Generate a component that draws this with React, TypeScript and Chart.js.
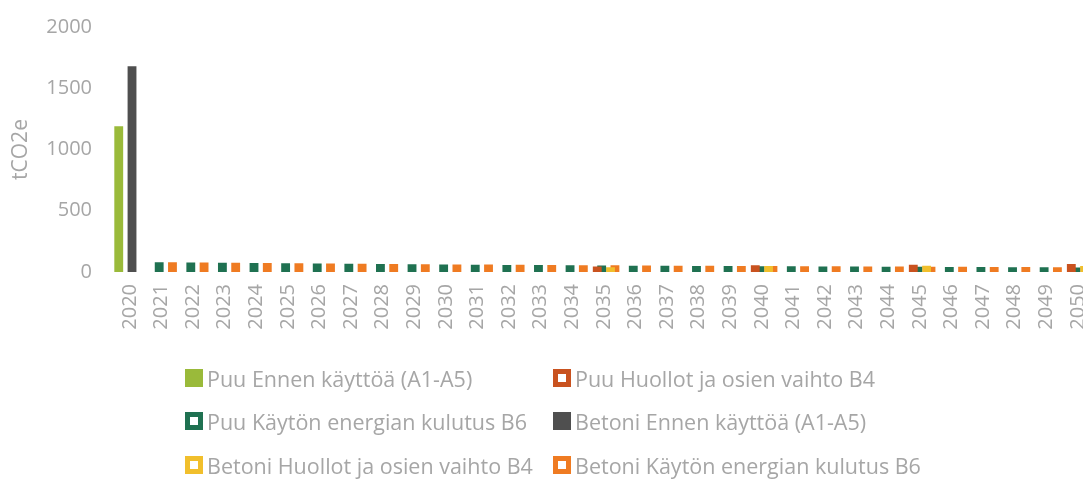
import React, { useEffect, useRef } from "react";
import { Chart, registerables } from "chart.js";

Chart.register(...registerables);

const years = [
  "2020", "2021", "2022", "2023", "2024", "2025", "2026", "2027", "2028", "2029", "2030",
  "2031", "2032", "2033", "2034", "2035", "2036", "2037", "2038", "2039", "2040",
  "2041", "2042", "2043", "2044", "2045", "2046", "2047", "2048", "2049", "2050",
];

const puuA1A5 = [1190, null, null, null, null, null, null, null, null, null, null, null, null, null, null, null, null, null, null, null, null, null, null, null, null, null, null, null, null, null, null];
const puuB4 = [null, null, null, null, null, null, null, null, null, null, null, null, null, null, null, 45, null, null, null, null, 55, null, null, null, null, 60, null, null, null, null, 65];
const puuB6 = [null, 80, 78, 75, 73, 71, 69, 67, 65, 63, 62, 60, 58, 57, 55, 54, 52, 51, 50, 48, 47, 46, 45, 44, 43, 42, 41, 40, 39, 38, 37];
const betoniA1A5 = [1680, null, null, null, null, null, null, null, null, null, null, null, null, null, null, null, null, null, null, null, null, null, null, null, null, null, null, null, null, null, null];
const betoniB4 = [null, null, null, null, null, null, null, null, null, null, null, null, null, null, null, 38, null, null, null, null, 48, null, null, null, null, 52, null, null, null, null, 48];
const betoniB6 = [null, 80, 78, 76, 74, 72, 70, 68, 66, 64, 62, 61, 59, 57, 56, 55, 53, 52, 51, 49, 48, 47, 46, 45, 44, 43, 42, 41, 40, 39, 38];

const yTicks = [0, 500, 1000, 1500, 2000];

const seriesNames = [
  "Puu Ennen käyttöä (A1-A5)",
  "Puu Huollot ja osien vaihto B4",
  "Puu Käytön energian kulutus B6",
  "Betoni Ennen käyttöä (A1-A5)",
  "Betoni Huollot ja osien vaihto B4",
  "Betoni Käytön energian kulutus B6",
];
const seriesData = [puuA1A5, puuB4, puuB6, betoniA1A5, betoniB4, betoniB6];
const seriesColors = ["#9aba3a", "#c9521f", "#1f7151", "#4f4f4f", "#f1bf2c", "#ef7b22"];
const seriesHollow = [false, true, true, false, true, true];

const TEXT = "#a6a6a6";
const FONT = "'Open Sans', 'Noto Sans', sans-serif";

export default function App() {
  const ref = useRef<HTMLCanvasElement | null>(null);

  useEffect(() => {
    if (!ref.current) return;
    const chart = new Chart(ref.current, {
      type: "bar",
      data: {
        labels: years,
        datasets: seriesNames.map((name, i) => ({
          label: name,
          data: seriesData[i],
          backgroundColor: seriesColors[i],
          borderWidth: 0,
          barPercentage: 2.0,
          categoryPercentage: 0.84,
        })),
      },
      options: {
        animation: false,
        responsive: true,
        maintainAspectRatio: false,
        layout: { padding: { top: 27, bottom: 147, left: 8, right: 3 } },
        plugins: {
          legend: { display: false },
          tooltip: { enabled: false },
        },
        scales: {
          x: {
            grid: { display: false },
            border: { display: false },
            ticks: {
              autoSkip: false,
              maxRotation: 90,
              minRotation: 90,
              color: TEXT,
              font: { family: FONT, size: 20 },
              padding: 4,
            },
            afterFit: (s: any) => {
              s.height = 60;
            },
          },
          y: {
            min: yTicks[0],
            max: yTicks[yTicks.length - 1],
            grid: { display: false },
            border: { display: false },
            afterBuildTicks: (s: any) => {
              s.ticks = yTicks.map((v) => ({ value: v }));
            },
            ticks: {
              color: TEXT,
              font: { family: FONT, size: 20 },
              padding: 14,
              callback: (v: any) => String(v),
            },
            title: {
              display: true,
              text: "tCO2e",
              color: TEXT,
              font: { family: FONT, size: 21 },
              padding: 0,
            },
            afterFit: (s: any) => {
              s.width = 106;
            },
          },
        },
      },
    });
    return () => chart.destroy();
  }, []);

  const legendRows = [
    [0, 1],
    [2, 3],
    [4, 5],
  ];
  const rowY = [378, 421, 465];
  const colX = [185, 553];

  return (
    <div
      style={{
        position: "absolute",
        left: 0,
        top: 0,
        width: 1083,
        height: 479,
        overflow: "hidden",
        background: "#ffffff",
      }}
    >
      <div style={{ position: "absolute", left: 0, top: 0, width: 1106, height: 479 }}>
        <canvas ref={ref} />
      </div>
      {legendRows.map((row, r) =>
        row.map((idx, c) => (
          <div
            key={idx}
            style={{
              position: "absolute",
              left: colX[c],
              top: rowY[r] - 15,
              height: 30,
              display: "flex",
              alignItems: "center",
              whiteSpace: "nowrap",
              fontFamily: FONT,
              fontSize: 21.5,
              color: TEXT,
            }}
          >
            <span
              style={{
                display: "inline-block",
                boxSizing: "border-box",
                width: 18,
                height: 18,
                marginRight: 4,
                background: seriesHollow[idx] ? "#ffffff" : seriesColors[idx],
                border: seriesHollow[idx] ? `5px solid ${seriesColors[idx]}` : "none",
              }}
            />
            <span>{seriesNames[idx]}</span>
          </div>
        ))
      )}
    </div>
  );
}
